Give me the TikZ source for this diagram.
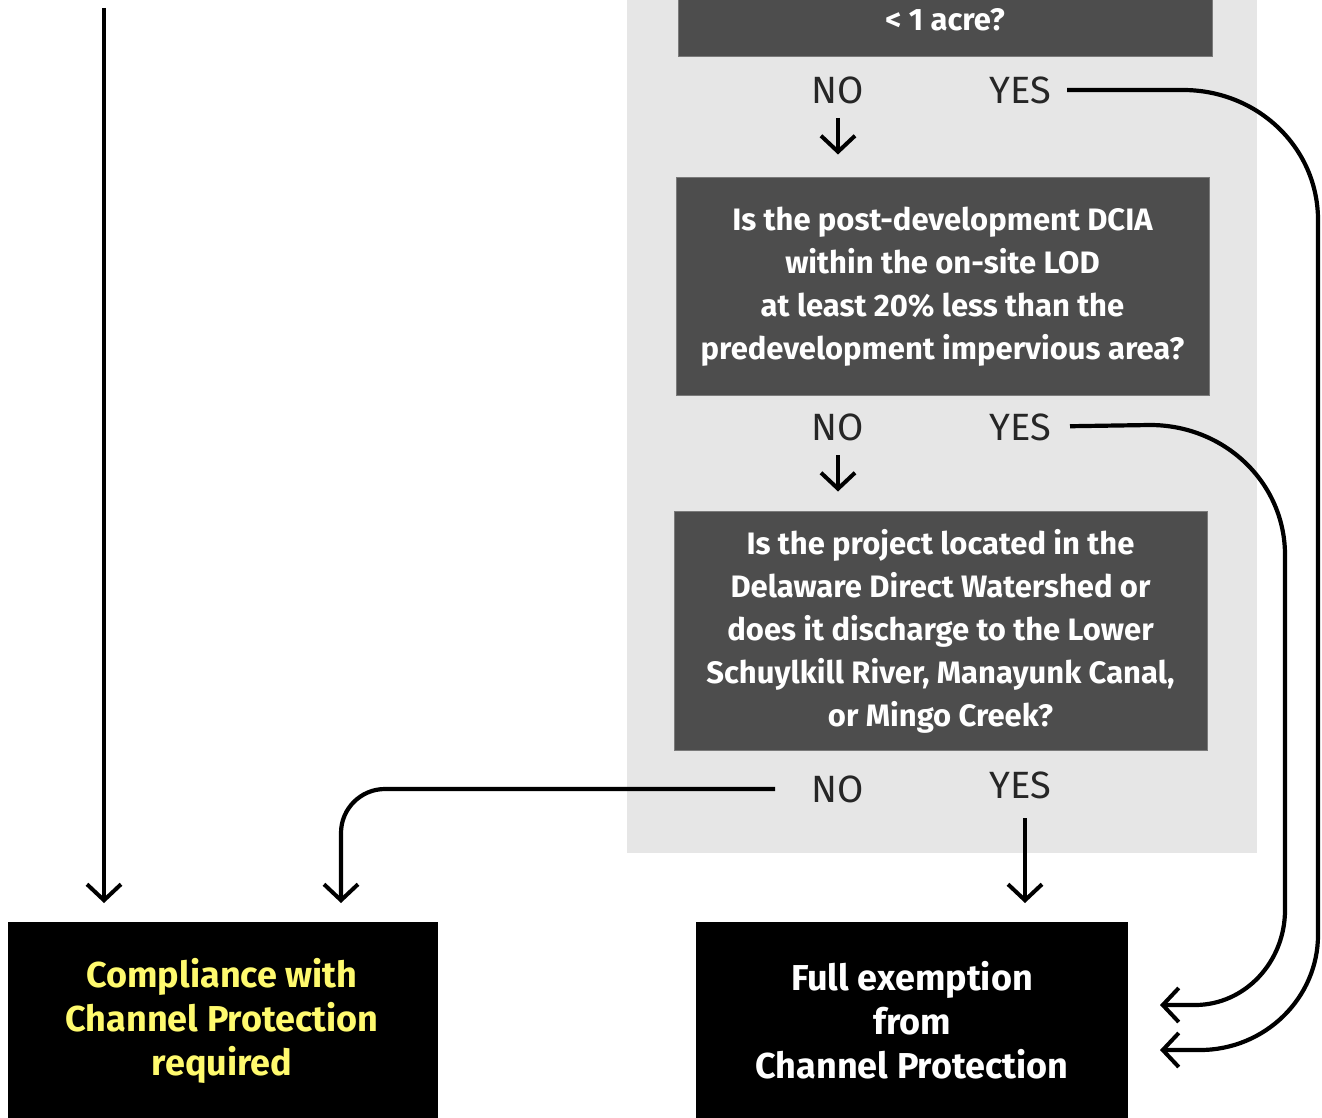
\documentclass[tikz,border=0pt]{standalone}
\usepackage{fontspec}
\setmainfont{Fira Sans}
\usetikzlibrary{arrows.meta}
\definecolor{panelc}{HTML}{E6E6E6}
\definecolor{darkq}{HTML}{4D4D4D}
\definecolor{edgeq}{HTML}{7A7A7A}
\definecolor{ansc}{HTML}{262626}
\definecolor{yellowt}{RGB}{255,250,110}
\begin{document}
\begin{tikzpicture}[x=1pt,y=-1pt,
  conn/.style={line width=4.2pt,-{Straight Barb[length=16pt,width=34pt,line width=4pt]}},
  qbox/.style={fill=darkq,draw=edgeq,line width=1pt,inner sep=0pt},
  qtext/.style={text=white,font=\bfseries\fontsize{31}{43}\selectfont,align=center,inner sep=0pt},
  ftext/.style={font=\bfseries\fontsize{36}{44}\selectfont,align=center,inner sep=0pt},
  fbox/.style={fill=black,inner sep=0pt},
  ans/.style={text=ansc,font=\fontsize{38}{38}\selectfont,inner sep=0pt}]
\useasboundingbox (0,0) rectangle (1322,1118);
\fill[white] (0,0) rectangle (1322,1118);
% panel
\fill[panelc] (627,-10) rectangle (1257,853);
% question boxes
\node[qbox,minimum width=534pt,minimum height=200pt,anchor=south] (q1) at (945,57) {};
\node[qtext] (q1t) at (945,20) {< 1 acre?};
\node[qbox,minimum width=533pt,minimum height=217pt] (q2) at (942.5,286.5) {};
\node[qtext] (q2t) at (942.5,287) {Is the post-development DCIA\\within the on-site LOD\\at least 20\% less than the\\predevelopment impervious area?};
\node[qbox,minimum width=533pt,minimum height=239pt] (q3) at (940.5,630.5) {};
\node[qtext] (q3t) at (940.5,631) {Is the project located in the\\Delaware Direct Watershed or\\does it discharge to the Lower\\Schuylkill River, Manayunk Canal,\\or Mingo Creek?};
% answers
\node[ans] (no1) at (838,90) {NO};
\node[ans] (yes1) at (1020,90) {YES};
\node[ans] (no2) at (838,427) {NO};
\node[ans] (yes2) at (1020,427) {YES};
\node[ans] (no3) at (838,789) {NO};
\node[ans] (yes3) at (1020,785) {YES};
% final boxes
\node[fbox,minimum width=430pt,minimum height=220pt,anchor=north] (comp) at (223,922) {};
\node[ftext,text=yellowt] (compt) at (222,1021) {Compliance with\\Channel Protection\\required};
\node[fbox,minimum width=432pt,minimum height=220pt,anchor=north] (fexe) at (912,922) {};
\node[ftext,text=white] (fexet) at (912,1020) {Full exemption\\from\\Channel Protection};
% free ends
\coordinate (lefttop) at (104,8);
\coordinate (tipa) at (1160,1050);
\coordinate (tipb) at (1160,1005);
% connectors
\draw[conn,shorten >=19pt] (lefttop) -- (lefttop |- comp.north);
\draw[conn,shorten <=28pt,shorten >=23pt] (no1.center) -- (no1.center |- q2.north);
\draw[conn,shorten <=28pt,shorten >=19pt] (no2.center) -- (no2.center |- q3.north);
\draw[conn,shorten <=33pt,shorten >=19pt] ([xshift=5pt]yes3.center) -- ([xshift=5pt]yes3.center |- fexe.north);
\draw[conn,rounded corners=44pt,shorten <=63pt,shorten >=19pt] (no3.center) -| ([xshift=118pt]comp.north);
\draw[conn,shorten <=47pt] (yes1.center) -- (1183,90)
  .. controls (1258,90) and (1318,148) .. (1318,220)
  -- (1318,935)
  .. controls (1318,998) and (1265,1050) .. (1200,1050) -- (tipa);
\draw[conn,shorten <=50pt] (yes2.center) -- (1150,425)
  .. controls (1225,425) and (1285,483) .. (1285,555)
  -- (1285,910)
  .. controls (1285,962) and (1245,1005) .. (1195,1005) -- (tipb);
\end{tikzpicture}
\end{document}
